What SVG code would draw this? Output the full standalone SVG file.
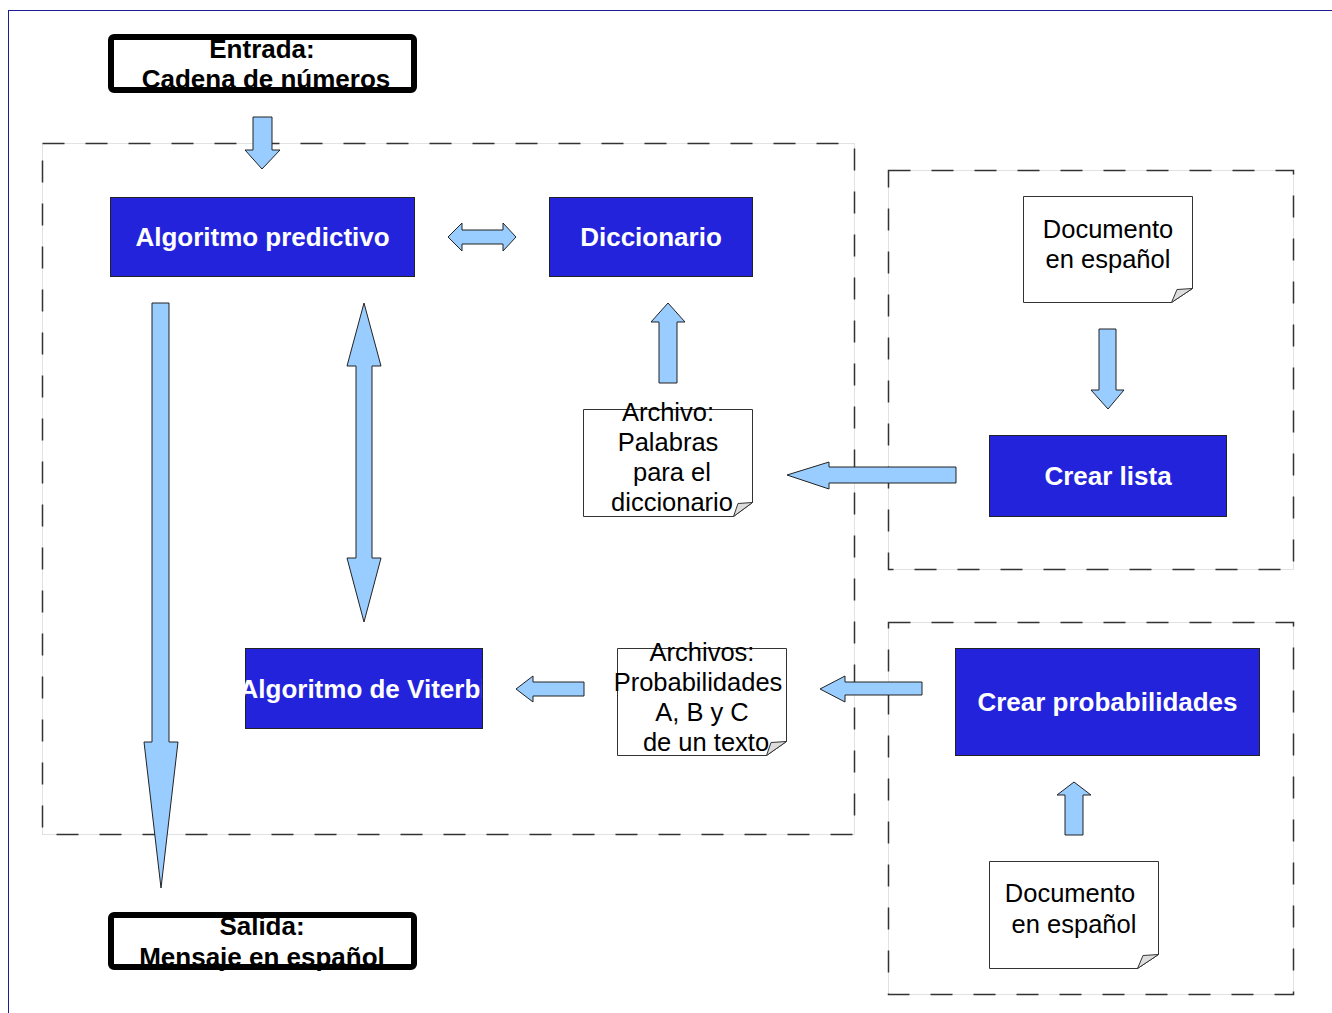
<svg xmlns="http://www.w3.org/2000/svg" width="1332" height="1013" viewBox="0 0 1332 1013">
<style>
.blk{fill:#2323dc;stroke:#222;stroke-width:1}
.bt{font-family:"Liberation Sans",Arial,sans-serif;font-weight:bold;font-size:26px;fill:#fff;text-anchor:middle}
.io{fill:none;stroke:#000;stroke-width:6}
.iot{font-family:"Liberation Sans",Arial,sans-serif;font-weight:bold;font-size:26px;fill:#000;text-anchor:middle}
.doc{fill:#fff;stroke:#333;stroke-width:1}
.fold{fill:#ddd;stroke:#333;stroke-width:1}
.dt{font-family:"Liberation Sans",Arial,sans-serif;font-size:25.5px;fill:#000;text-anchor:middle}
.arr{fill:#99ccff;stroke:#222;stroke-width:1;stroke-linejoin:miter}
.gbase{fill:none;stroke:#e2e2e2;stroke-width:1}
.dash{fill:none;stroke:#333;stroke-width:1.5;stroke-dasharray:22 21}
</style>
<defs>
<clipPath id="vclip"><rect x="245" y="648" width="237" height="80"/></clipPath>
</defs>
<rect x="8.5" y="10.5" width="1400" height="1100" fill="#fff" stroke="#1c1c96" stroke-width="1"/>

<g id="groups">
<rect class="gbase" x="42.5" y="143.5" width="812" height="691"/>
<rect class="dash" x="42.5" y="143.5" width="812" height="691"/>
<rect class="gbase" x="888.5" y="170.5" width="405" height="399"/>
<rect class="dash" x="888.5" y="170.5" width="405" height="399"/>
<rect class="gbase" x="888.5" y="622.5" width="405" height="372"/>
<rect class="dash" x="888.5" y="622.5" width="405" height="372"/>
</g>

<g id="entrada">
<text class="iot" x="262" y="58">Entrada:</text>
<text class="iot" x="266" y="88">Cadena de números</text>
<rect class="io" x="111" y="37" width="303" height="53" rx="3"/>
</g>

<g id="salida">
<text class="iot" x="262" y="935">Salida:</text>
<text class="iot" x="262" y="966">Mensaje en español</text>
<rect class="io" x="111" y="915" width="303" height="52" rx="3"/>
</g>

<g id="algoritmo-predictivo">
<rect class="blk" x="110.5" y="197.5" width="304" height="79"/>
<text class="bt" x="262.5" y="246">Algoritmo predictivo</text>
</g>

<g id="diccionario">
<rect class="blk" x="549.5" y="197.5" width="203" height="79"/>
<text class="bt" x="651" y="246">Diccionario</text>
</g>

<g id="archivo-palabras">
<path class="doc" d="M583.5,409.5 H752.5 V502.5 L733.5,516.5 H583.5 Z"/>
<path class="fold" d="M752.5,502.5 L738,503.5 L733.5,516.5 Z"/>
<text class="dt" x="668" y="421">Archivo:</text>
<text class="dt" x="668" y="451">Palabras</text>
<text class="dt" x="672" y="481">para el</text>
<text class="dt" x="672" y="511">diccionario</text>
</g>

<g id="algoritmo-viterbi">
<rect class="blk" x="245.5" y="648.5" width="237" height="80"/>
<text class="bt" x="363.5" y="698" clip-path="url(#vclip)">Algoritmo de Viterbi</text>
</g>

<g id="archivos-probabilidades">
<path class="doc" d="M617.5,648.5 H786.5 V741.5 L766.5,755.5 H617.5 Z"/>
<path class="fold" d="M786.5,741.5 L771,742.5 L766.5,755.5 Z"/>
<text class="dt" x="702" y="661">Archivos:</text>
<text class="dt" x="698" y="691">Probabilidades</text>
<text class="dt" x="702" y="721">A, B y C</text>
<text class="dt" x="706" y="751">de un texto</text>
</g>

<g id="documento-1">
<path class="doc" d="M1023.5,196.5 H1192.5 V288.5 L1171.5,302.5 H1023.5 Z"/>
<path class="fold" d="M1192.5,288.5 L1177,289.5 L1171.5,302.5 Z"/>
<text class="dt" x="1108" y="238">Documento</text>
<text class="dt" x="1108" y="268">en español</text>
</g>

<g id="crear-lista">
<rect class="blk" x="989.5" y="435.5" width="237" height="81"/>
<text class="bt" x="1108" y="485">Crear lista</text>
</g>

<g id="crear-probabilidades">
<rect class="blk" x="955.5" y="648.5" width="304" height="107"/>
<text class="bt" x="1107.5" y="711">Crear probabilidades</text>
</g>

<g id="documento-2">
<path class="doc" d="M989.5,861.5 H1158.5 V954.5 L1137.5,968.5 H989.5 Z"/>
<path class="fold" d="M1158.5,954.5 L1143,955.5 L1137.5,968.5 Z"/>
<text class="dt" x="1070" y="902">Documento</text>
<text class="dt" x="1074" y="933">en español</text>
</g>

<g id="connectors">
<polygon class="arr" points="253,117 272,117 272,150 280,150 262,169 245,150 253,150"/>
<polygon class="arr" points="448,237 462,223 462,230 503,230 503,223 516,237 503,251 503,244 462,244 462,251"/>
<polygon class="arr" points="668,303 685,322 677,322 677,383 659,383 659,322 651,322"/>
<polygon class="arr" points="364,303 381,366 372,366 372,558 381,558 364,622 347,558 356,558 356,366 347,366"/>
<polygon class="arr" points="152,303 169,303 169,742 178,742 161,888 144,742 152,742"/>
<polygon class="arr" points="787,475 829,462 829,467 956,467 956,483 829,483 829,489"/>
<polygon class="arr" points="1099,329 1116,329 1116,390 1124,390 1108,409 1091,390 1099,390"/>
<polygon class="arr" points="820,689 845,676 845,682 922,682 922,695 845,695 845,702"/>
<polygon class="arr" points="516,689 533,676 533,682 584,682 584,696 533,696 533,702"/>
<polygon class="arr" points="1074,782 1091,795 1083,795 1083,835 1065,835 1065,795 1057,795"/>
</g>
</svg>
